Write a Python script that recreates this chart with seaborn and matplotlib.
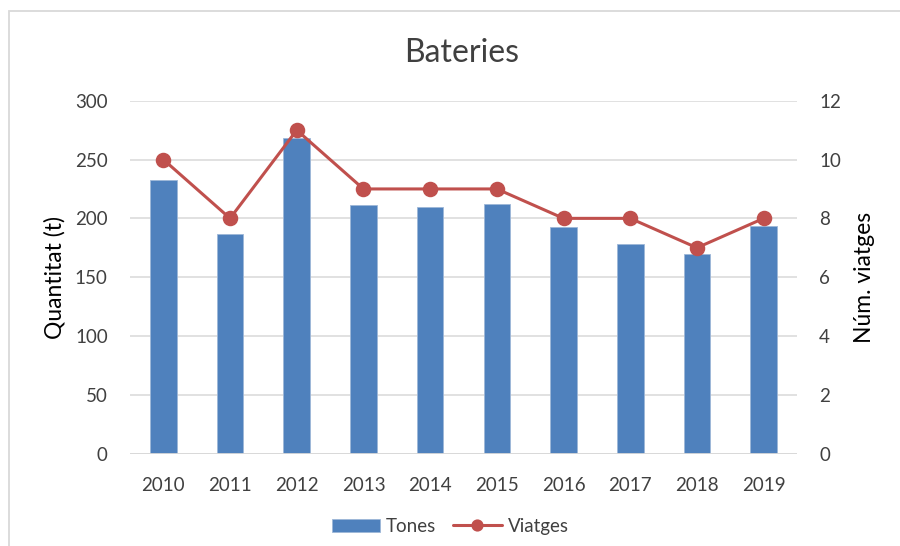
import matplotlib.pyplot as plt
import seaborn as sns
import pandas as pd
from matplotlib.patches import Rectangle

# Chart data
years = ['2010', '2011', '2012', '2013', '2014', '2015', '2016', '2017', '2018', '2019']
tones = [233, 187, 268, 211, 210, 212, 193, 178.5, 169.5, 193.5]
viatges = [10, 8, 11, 9, 9, 9, 8, 8, 7, 8]

df = pd.DataFrame({'any': years, 'tones': tones, 'viatges': viatges})

sns.set_style('white')
plt.rcParams['font.family'] = ['Lato', 'DejaVu Sans']

bar_color = '#4F81BD'
line_color = '#C0504D'
grid_color = '#D9D9D9'
text_color = '#404040'

fig = plt.figure(figsize=(9, 5.46), dpi=100)
ax = fig.add_axes([130 / 900, 1 - 453.7 / 546, 667 / 900, 353 / 546])
ax2 = ax.twinx()

# Bars: tonnes
sns.barplot(data=df, x='any', y='tones', color=bar_color, width=0.4, saturation=1,
            edgecolor='#9DB7D8', linewidth=0.6, label='Tones', ax=ax)

# Line: number of trips
sns.pointplot(data=df, x='any', y='viatges', color=line_color, markers='o',
              markersize=9.5, linewidth=2.2, label='Viatges', ax=ax2)

# Axes limits and ticks
ax.set_ylim(0, 300)
ax.set_yticks(range(0, 301, 50))
ax2.set_ylim(0, 12)
ax2.set_yticks(range(0, 13, 2))
ax.set_xlim(-0.5, 9.5)

# Grid
ax.yaxis.grid(True, color=grid_color, linewidth=1.1)
ax.set_axisbelow(True)
for a in (ax, ax2):
    for side in ('top', 'right', 'left', 'bottom'):
        a.spines[side].set_visible(False)
ax.axhline(0, color=grid_color, linewidth=1.3, zorder=1)

ax.tick_params(axis='both', length=0, labelsize=13.5, labelcolor=text_color)
ax.tick_params(axis='y', pad=16)
ax.tick_params(axis='x', pad=17)
ax2.tick_params(axis='y', length=0, labelsize=13.5, labelcolor=text_color, pad=16)

ax.set_xlabel('')
ax.set_ylabel('Quantitat (t)', fontsize=16.5, color='black', labelpad=7)
ax2.set_ylabel('Núm. viatges', fontsize=16.5, color='black', labelpad=9)

fig.suptitle('Bateries', x=0.5125, y=1 - 53 / 546, va='center', fontsize=23, color=text_color)

# Legend at bottom centre
h1, l1 = ax.get_legend_handles_labels()
h2, l2 = ax2.get_legend_handles_labels()
for a in (ax, ax2):
    if a.get_legend() is not None:
        a.get_legend().remove()
fig.legend(h1 + h2, l1 + l2, loc='center', bbox_to_anchor=(0.5, 1 - 526.5 / 546), ncol=2,
           frameon=False, fontsize=13.5, handlelength=2.6, handletextpad=0.3, columnspacing=0.9,
           markerscale=0.75, labelcolor=text_color)

# Chart border (only left and top visible in the reference crop)
fig.patches.append(Rectangle((8.5 / 900, -0.05), 1.2, 1.05 - 11.5 / 546, transform=fig.transFigure,
                             fill=False, edgecolor=grid_color, linewidth=1.3))

fig.savefig('out.png', dpi=100)
